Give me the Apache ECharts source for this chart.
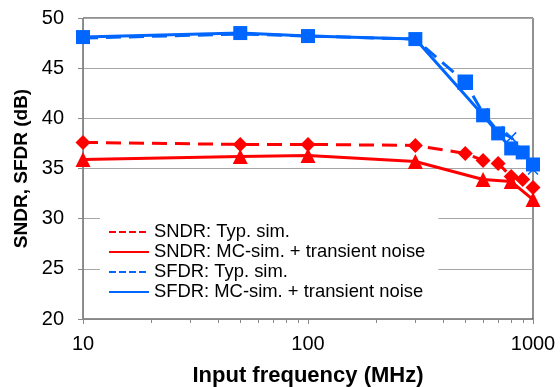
<!DOCTYPE html>
<html><head><meta charset="utf-8">
<script src="https://cdn.jsdelivr.net/npm/echarts@6/dist/echarts.min.js"></script>
<style>html,body{margin:0;padding:0;background:#fff}#c{width:560px;height:387px}</style>
</head><body><div id="c"></div>
<script>
const freqSndrTyp = [10, 50, 100, 300, 500, 600, 700, 800, 900, 1000];
const sndrTyp = [37.6, 37.4, 37.4, 37.3, 36.5, 35.8, 35.5, 34.2, 33.9, 33.1];
const freqSndrMc = [10, 50, 100, 300, 600, 800, 1000];
const sndrMc = [35.9, 36.2, 36.3, 35.7, 33.9, 33.7, 31.9];
const freqSfdrTyp = [10, 50, 100, 300, 500, 600, 700, 800, 900, 1000];
const sfdrTyp = [48.0, 48.4, 48.2, 47.9, 43.6, 40.5, 38.7, 38.1, 36.6, 34.9];
const freqSfdrMc = [10, 50, 100, 300, 600, 700, 800, 900, 1000];
const sfdrMc = [48.1, 48.5, 48.2, 47.9, 40.3, 38.5, 37.0, 36.6, 35.4];
const minorTickFreqs = [20, 30, 40, 50, 60, 70, 80, 90, 200, 300, 400, 500, 600, 700, 800, 900];
const seriesNames = ['SNDR: Typ. sim.', 'SNDR: MC-sim. + transient noise', 'SFDR: Typ. sim.', 'SFDR: MC-sim. + transient noise'];

const RED = '#ff0000', BLUE = '#0066ff';
const FONT = 'Liberation Sans, Arial, sans-serif';
const pair = (xs, ys) => xs.map((x, i) => [x, ys[i]]);
const xPath = 'path://M0,0L10,10M10,0L0,10';

const chart = echarts.init(document.getElementById('c'), null, {renderer: 'canvas'});
chart.setOption({
  animation: false,
  backgroundColor: '#fff',
  grid: {left: 83, right: 27, top: 18, bottom: 68, show: true, borderColor: '#222', borderWidth: 1,
         backgroundColor: 'transparent', containLabel: false, outerBoundsMode: 'none'},
  xAxis: {
    type: 'log', logBase: 10, min: 10, max: 1000,
    name: 'Input frequency (MHz)', nameLocation: 'middle', nameGap: 46,
    nameTextStyle: {fontFamily: FONT, fontSize: 22, fontWeight: 'bold', color: '#000'},
    axisLine: {lineStyle: {color: '#888', width: 1}},
    axisTick: {show: true, length: 5, lineStyle: {color: '#888'}},
    axisLabel: {fontFamily: FONT, fontSize: 20, color: '#000', margin: 15, formatter: v => String(v)},
    splitLine: {show: false}, minorTick: {show: false}
  },
  yAxis: {
    type: 'value', min: 20, max: 50, interval: 5,
    name: 'SNDR, SFDR (dB)', nameLocation: 'middle', nameGap: 50, nameRotate: 90,
    nameTextStyle: {fontFamily: FONT, fontSize: 19, fontWeight: 'bold', color: '#000'},
    axisLine: {show: true, lineStyle: {color: '#888'}},
    axisTick: {show: true, length: 5, lineStyle: {color: '#888'}},
    axisLabel: {fontFamily: FONT, fontSize: 20, color: '#000', margin: 19},
    splitLine: {lineStyle: {color: '#a6a6a6', width: 1}}
  },
  legend: {
    orient: 'vertical', left: 100, top: 216,
    backgroundColor: '#fff', padding: [6, 13, 8, 8],
    itemWidth: 40, itemHeight: 14, itemGap: 0,
    textStyle: {fontFamily: FONT, fontSize: 18.4, color: '#000', lineHeight: 20},
    itemStyle: {opacity: 0},
    data: [
      {name: seriesNames[0], lineStyle: {type: [7, 3]}},
      {name: seriesNames[1]},
      {name: seriesNames[2], lineStyle: {type: [7, 3]}},
      {name: seriesNames[3]}
    ]
  },
  series: [
    {
      name: 'minor', type: 'custom', silent: true, clip: false, z: 10,
      data: minorTickFreqs.map(f => [f, 20]),
      renderItem: (params, api) => {
        const p = api.coord([api.value(0), api.value(1)]);
        const x = Math.round(p[0]) + 0.5;
        return {type: 'line', shape: {x1: x, y1: p[1], x2: x, y2: p[1] + 4},
                style: {stroke: '#888', lineWidth: 1}};
      }
    },
    {
      name: seriesNames[0], type: 'line', data: pair(freqSndrTyp, sndrTyp),
      lineStyle: {color: RED, width: 3, type: [15, 8]}, itemStyle: {color: RED},
      symbol: 'diamond', symbolSize: 15, showAllSymbol: true, z: 3
    },
    {
      name: seriesNames[1], type: 'line', data: pair(freqSndrMc, sndrMc),
      lineStyle: {color: RED, width: 3}, itemStyle: {color: RED},
      symbol: 'triangle', symbolSize: 15, z: 4
    },
    {
      name: seriesNames[2], type: 'line',
      data: pair(freqSfdrTyp, sfdrTyp).map(d => d[0] === 500 ? {value: d, symbol: 'rect', symbolSize: 14} : d),
      lineStyle: {color: BLUE, width: 3, type: [15, 8]},
      itemStyle: {color: BLUE, borderColor: BLUE, borderWidth: 1.5},
      symbol: xPath, symbolSize: 10, z: 3
    },
    {
      name: seriesNames[3], type: 'line', data: pair(freqSfdrMc, sfdrMc),
      lineStyle: {color: BLUE, width: 3}, itemStyle: {color: BLUE},
      symbol: 'rect', symbolSize: 14, z: 4
    }
  ]
});
</script></body></html>
